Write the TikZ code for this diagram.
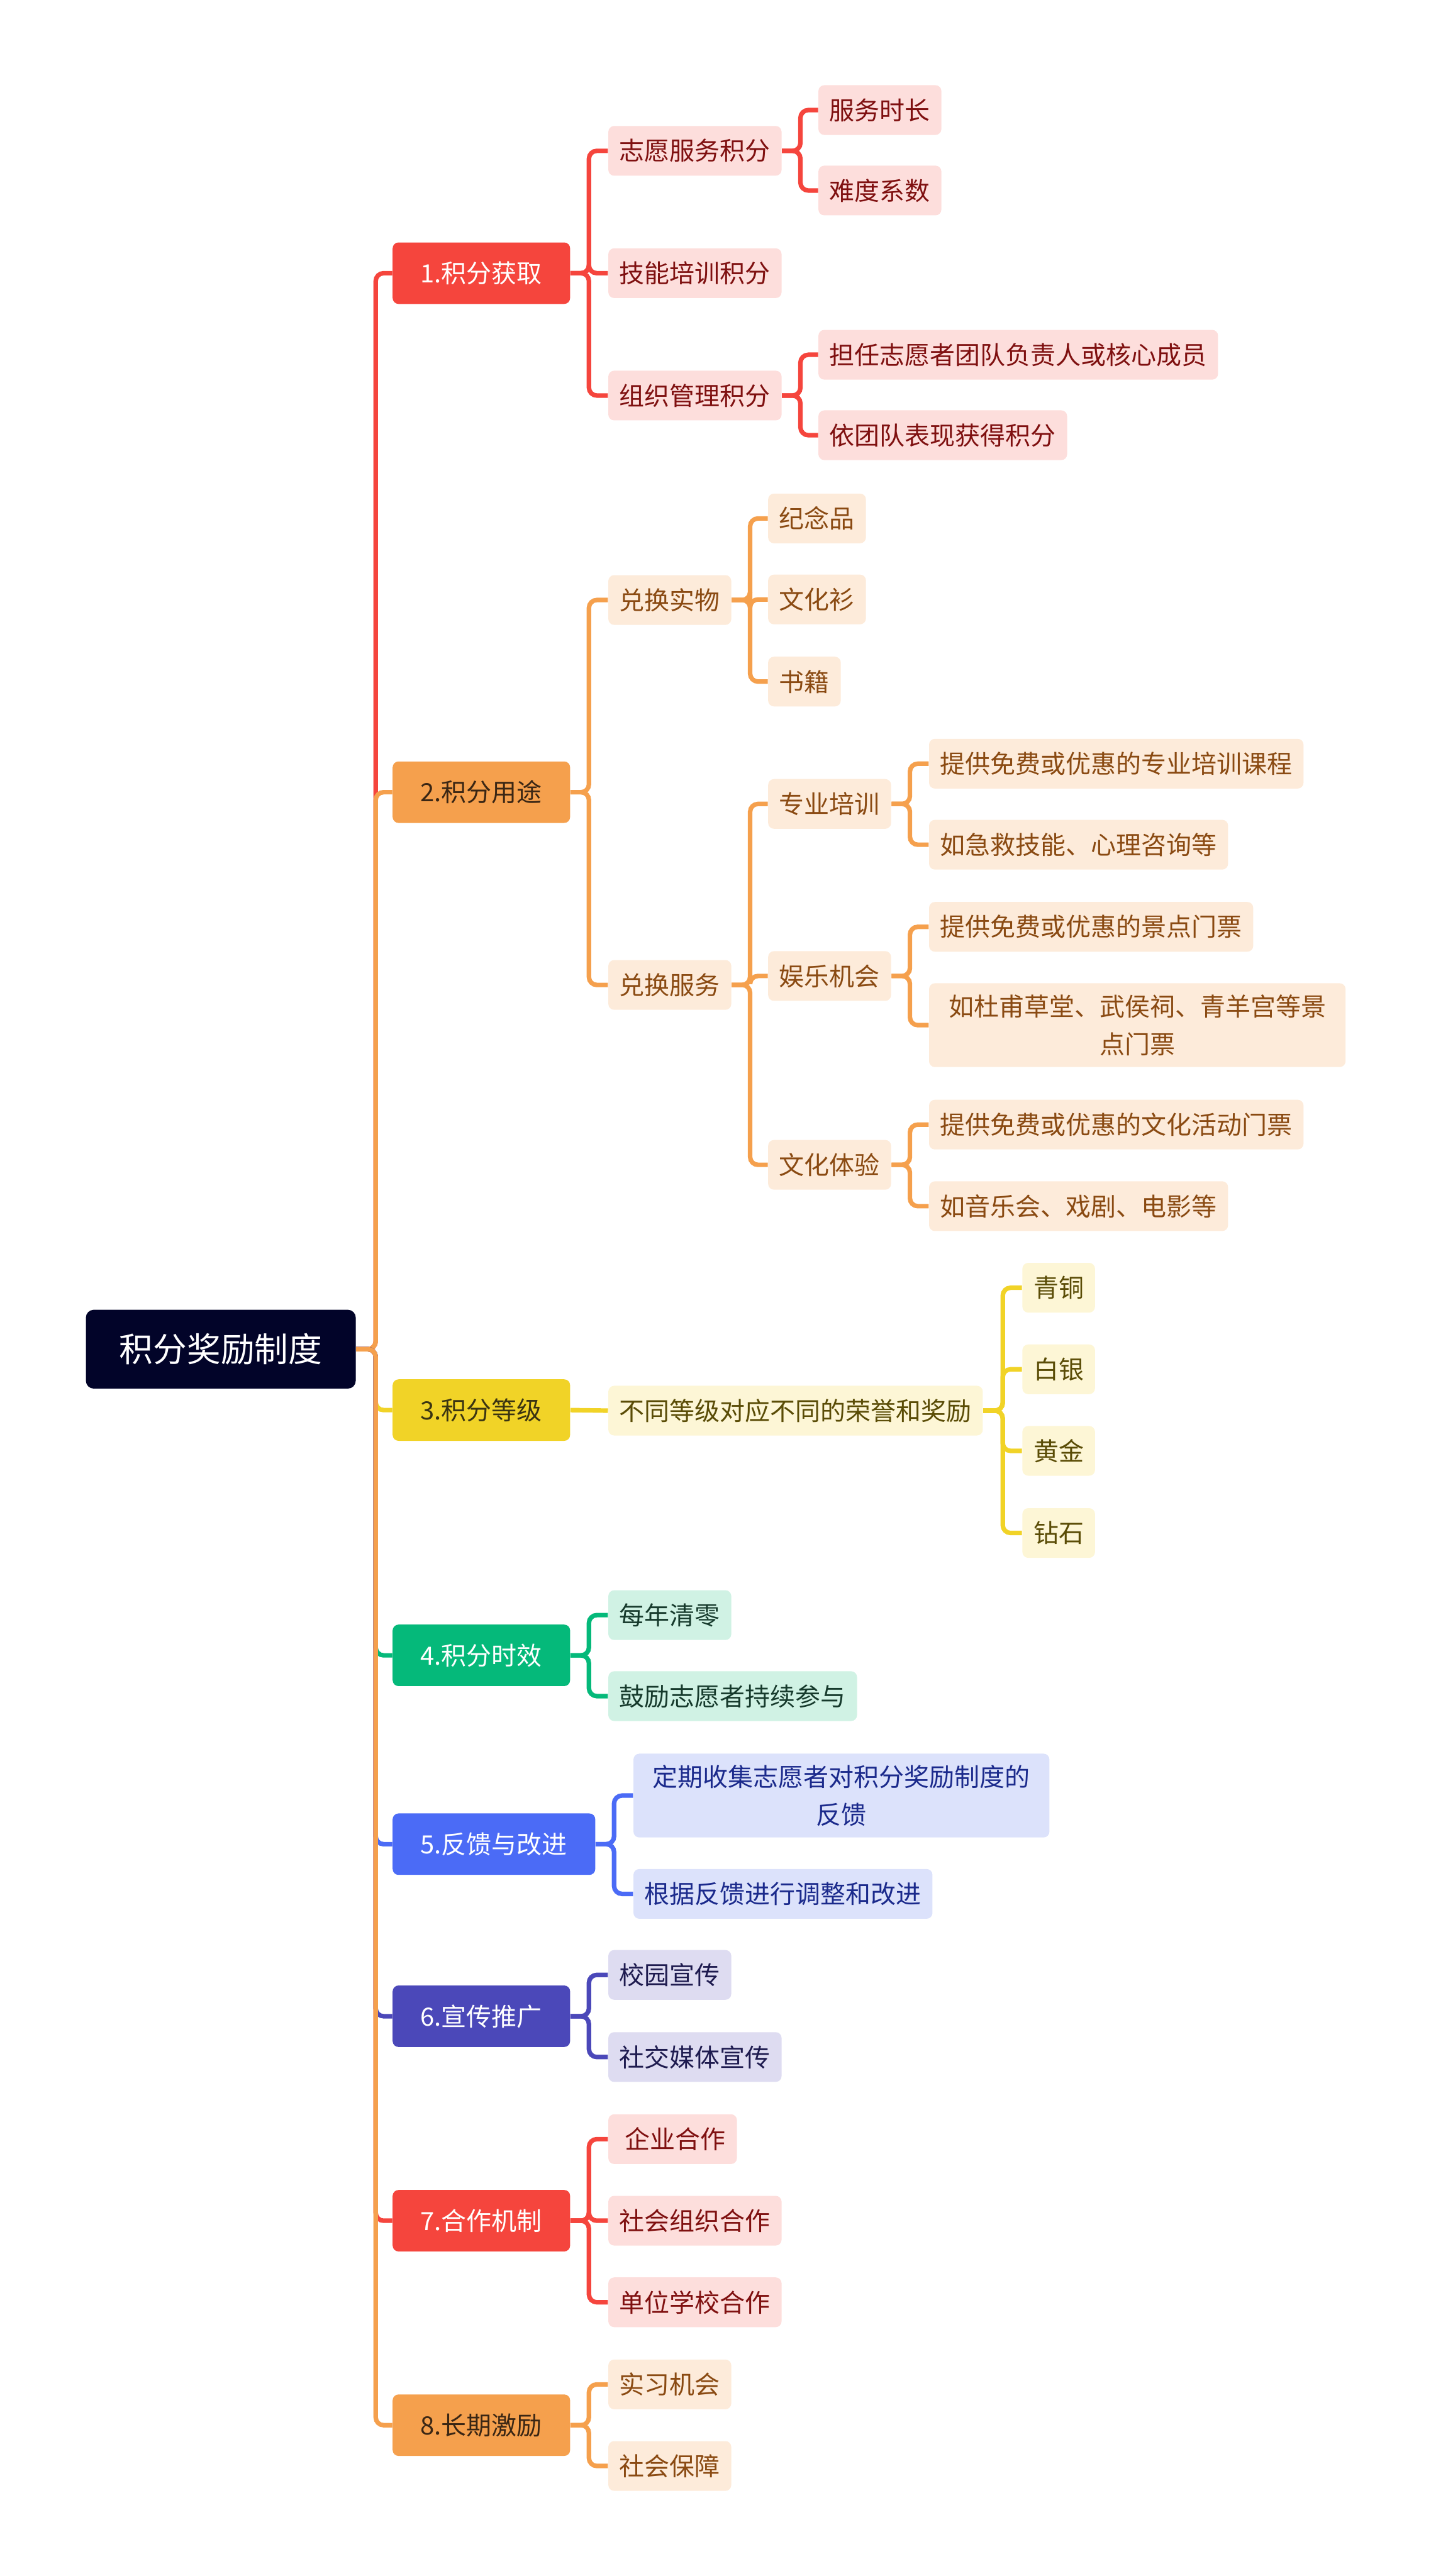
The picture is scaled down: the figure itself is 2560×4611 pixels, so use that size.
\documentclass[tikz,border=0pt]{standalone}
\usepackage{fontspec}
\usepackage{xcolor}
\usepackage{tikz}
\newfontfamily\cjk{Noto Sans CJK SC}
\definecolor{rootNavy}{HTML}{020429}
\definecolor{mmRed}{HTML}{F5453D}
\definecolor{mmRedLight}{HTML}{FDDEDC}
\definecolor{mmRedText}{HTML}{7F1010}
\definecolor{mmOrange}{HTML}{F5A04D}
\definecolor{mmOrangeLight}{HTML}{FDEBDA}
\definecolor{mmOrangeText}{HTML}{8A4A12}
\definecolor{mmOrangeDark}{HTML}{3A2614}
\definecolor{mmYellow}{HTML}{F1D327}
\definecolor{mmYellowLight}{HTML}{FDF6D6}
\definecolor{mmYellowText}{HTML}{5A4C06}
\definecolor{mmYellowDark}{HTML}{3A3412}
\definecolor{mmGreen}{HTML}{05B97A}
\definecolor{mmGreenLight}{HTML}{D0F2E4}
\definecolor{mmGreenText}{HTML}{163A2C}
\definecolor{mmBlue}{HTML}{4B6BF6}
\definecolor{mmBlueLight}{HTML}{DCE2FB}
\definecolor{mmBlueText}{HTML}{1B2A8C}
\definecolor{mmIndigo}{HTML}{4B48B9}
\definecolor{mmIndigoLight}{HTML}{DEDCF1}
\definecolor{mmIndigoText}{HTML}{1E1B4F}
\tikzset{
  reward-root/.style={fill=rootNavy, text=white, rounded corners=4pt, anchor=west,
    font=\cjk\fontsize{17.2pt}{20pt}\selectfont, inner xsep=0.6cm, minimum height=1.41cm},
  reward-topic/.style={rounded corners=3pt, anchor=west,
    font=\cjk\fontsize{12.8pt}{19pt}\selectfont, inner xsep=0.5cm, minimum height=1.1cm},
  reward-item/.style={rounded corners=3pt, anchor=west, align=center,
    font=\cjk\fontsize{12.8pt}{19pt}\selectfont, inner xsep=0.2cm, minimum height=0.89cm},
  reward-link/.style={line width=2.3pt, rounded corners=4pt},
  red-topic/.style={reward-topic, fill=mmRed, text=white},
  red-item/.style={reward-item, fill=mmRedLight, text=mmRedText},
  red-link/.style={reward-link, draw=mmRed},
  orange-topic/.style={reward-topic, fill=mmOrange, text=mmOrangeDark},
  orange-item/.style={reward-item, fill=mmOrangeLight, text=mmOrangeText},
  orange-link/.style={reward-link, draw=mmOrange},
  yellow-topic/.style={reward-topic, fill=mmYellow, text=mmYellowDark},
  yellow-item/.style={reward-item, fill=mmYellowLight, text=mmYellowText},
  yellow-link/.style={reward-link, draw=mmYellow},
  green-topic/.style={reward-topic, fill=mmGreen, text=white},
  green-item/.style={reward-item, fill=mmGreenLight, text=mmGreenText},
  green-link/.style={reward-link, draw=mmGreen},
  blue-topic/.style={reward-topic, fill=mmBlue, text=white},
  blue-item/.style={reward-item, fill=mmBlueLight, text=mmBlueText},
  blue-link/.style={reward-link, draw=mmBlue},
  indigo-topic/.style={reward-topic, fill=mmIndigo, text=white},
  indigo-item/.style={reward-item, fill=mmIndigoLight, text=mmIndigoText},
  indigo-link/.style={reward-link, draw=mmIndigo}
}

\begin{document}
\begin{tikzpicture}[x=0.01cm, y=-0.01cm]
  \useasboundingbox (0,0) rectangle (2560,4611);

  % Root and main topics
  \node[reward-root] (root) at (153,2415) {积分奖励制度};
  \node[red-topic] (t1) at (702,489) {1.积分获取};
  \node[orange-topic] (t2) at (702,1418) {2.积分用途};
  \node[yellow-topic] (t3) at (702,2524) {3.积分等级};
  \node[green-topic] (t4) at (702,2963) {4.积分时效};
  \node[blue-topic] (t5) at (702,3301) {5.反馈与改进};
  \node[indigo-topic] (t6) at (702,3609) {6.宣传推广};
  \node[red-topic] (t7) at (702,3975) {7.合作机制};
  \node[orange-topic] (t8) at (702,4341) {8.长期激励};

  % 1
  \node[red-item] (t1a) at (1088,270) {志愿服务积分};
  \node[red-item] (t1b) at (1088,489) {技能培训积分};
  \node[red-item] (t1c) at (1088,708) {组织管理积分};
  \node[red-item] (t1a1) at (1464,197) {服务时长};
  \node[red-item] (t1a2) at (1464,341) {难度系数};
  \node[red-item] (t1c1) at (1464,635) {担任志愿者团队负责人或核心成员};
  \node[red-item] (t1c2) at (1464,779) {依团队表现获得积分};

  % 2
  \node[orange-item] (t2a) at (1088,1074) {兑换实物};
  \node[orange-item] (t2b) at (1088,1763) {兑换服务};
  \node[orange-item] (t2a1) at (1374,928) {纪念品};
  \node[orange-item] (t2a2) at (1374,1073) {文化衫};
  \node[orange-item] (t2a3) at (1374,1220) {书籍};
  \node[orange-item] (t2b1) at (1374,1439) {专业培训};
  \node[orange-item] (t2b2) at (1374,1747) {娱乐机会};
  \node[orange-item] (t2b3) at (1374,2085) {文化体验};
  \node[orange-item] (t2b1a) at (1662,1367) {提供免费或优惠的专业培训课程};
  \node[orange-item] (t2b1b) at (1662,1512) {如急救技能、心理咨询等};
  \node[orange-item] (t2b2a) at (1662,1659) {提供免费或优惠的景点门票};
  \node[orange-item, text width=7.05cm, minimum height=1.5cm] (t2b2b) at (1662,1835)
    {如杜甫草堂、武侯祠、青羊宫等景\\点门票};
  \node[orange-item] (t2b3a) at (1662,2013) {提供免费或优惠的文化活动门票};
  \node[orange-item] (t2b3b) at (1662,2159) {如音乐会、戏剧、电影等};

  % 3
  \node[yellow-item] (t3a) at (1088,2525) {不同等级对应不同的荣誉和奖励};
  \node[yellow-item] (t3a1) at (1829,2305) {青铜};
  \node[yellow-item] (t3a2) at (1829,2451) {白银};
  \node[yellow-item] (t3a3) at (1829,2597) {黄金};
  \node[yellow-item] (t3a4) at (1829,2744) {钻石};

  % 4 -- 8
  \node[green-item] (t4a) at (1088,2891) {每年清零};
  \node[green-item] (t4b) at (1088,3036) {鼓励志愿者持续参与};
  \node[blue-item, text width=7.04cm, minimum height=1.5cm] (t5a) at (1133,3214)
    {定期收集志愿者对积分奖励制度的\\反馈};
  \node[blue-item] (t5b) at (1133,3390) {根据反馈进行调整和改进};
  \node[indigo-item] (t6a) at (1088,3535) {校园宣传};
  \node[indigo-item] (t6b) at (1088,3682) {社交媒体宣传};
  \node[red-item] (t7a) at (1088,3829) {\ 企业合作};
  \node[red-item] (t7b) at (1088,3975) {社会组织合作};
  \node[red-item] (t7c) at (1088,4121) {单位学校合作};
  \node[orange-item] (t8a) at (1088,4268) {实习机会};
  \node[orange-item] (t8b) at (1088,4414) {社会保障};

  % Links from the root
  \draw[red-link] (root.east) -- ++(35,0) |- (t1.west);
  \draw[orange-link] (root.east) -- ++(35,0) |- (t2.west);
  \draw[yellow-link] (root.east) -- ++(35,0) |- (t3.west);
  \draw[green-link] (root.east) -- ++(35,0) |- (t4.west);
  \draw[blue-link] (root.east) -- ++(35,0) |- (t5.west);
  \draw[indigo-link] (root.east) -- ++(35,0) |- (t6.west);
  \draw[red-link] (root.east) -- ++(35,0) |- (t7.west);
  \draw[orange-link] (root.east) -- ++(35,0) |- (t8.west);

  % Links inside the topics
  \draw[red-link] (t1.east) -- ++(33,0) |- (t1a.west);
  \draw[red-link] (t1.east) -- ++(33,0) |- (t1b.west);
  \draw[red-link] (t1.east) -- ++(33,0) |- (t1c.west);
  \draw[red-link] (t1a.east) -- ++(33,0) |- (t1a1.west);
  \draw[red-link] (t1a.east) -- ++(33,0) |- (t1a2.west);
  \draw[red-link] (t1c.east) -- ++(33,0) |- (t1c1.west);
  \draw[red-link] (t1c.east) -- ++(33,0) |- (t1c2.west);

  \draw[orange-link] (t2.east) -- ++(33,0) |- (t2a.west);
  \draw[orange-link] (t2.east) -- ++(33,0) |- (t2b.west);
  \draw[orange-link] (t2a.east) -- ++(33,0) |- (t2a1.west);
  \draw[orange-link] (t2a.east) -- ++(33,0) |- (t2a2.west);
  \draw[orange-link] (t2a.east) -- ++(33,0) |- (t2a3.west);
  \draw[orange-link] (t2b.east) -- ++(33,0) |- (t2b1.west);
  \draw[orange-link] (t2b.east) -- ++(33,0) |- (t2b2.west);
  \draw[orange-link] (t2b.east) -- ++(33,0) |- (t2b3.west);
  \draw[orange-link] (t2b1.east) -- ++(33,0) |- (t2b1a.west);
  \draw[orange-link] (t2b1.east) -- ++(33,0) |- (t2b1b.west);
  \draw[orange-link] (t2b2.east) -- ++(33,0) |- (t2b2a.west);
  \draw[orange-link] (t2b2.east) -- ++(33,0) |- (t2b2b.west);
  \draw[orange-link] (t2b3.east) -- ++(33,0) |- (t2b3a.west);
  \draw[orange-link] (t2b3.east) -- ++(33,0) |- (t2b3b.west);

  \draw[yellow-link] (t3.east) -- (t3a.west);
  \draw[yellow-link] (t3a.east) -- ++(35,0) |- (t3a1.west);
  \draw[yellow-link] (t3a.east) -- ++(35,0) |- (t3a2.west);
  \draw[yellow-link] (t3a.east) -- ++(35,0) |- (t3a3.west);
  \draw[yellow-link] (t3a.east) -- ++(35,0) |- (t3a4.west);

  \draw[green-link] (t4.east) -- ++(33,0) |- (t4a.west);
  \draw[green-link] (t4.east) -- ++(33,0) |- (t4b.west);
  \draw[blue-link] (t5.east) -- ++(33,0) |- (t5a.west);
  \draw[blue-link] (t5.east) -- ++(33,0) |- (t5b.west);
  \draw[indigo-link] (t6.east) -- ++(33,0) |- (t6a.west);
  \draw[indigo-link] (t6.east) -- ++(33,0) |- (t6b.west);
  \draw[red-link] (t7.east) -- ++(33,0) |- (t7a.west);
  \draw[red-link] (t7.east) -- ++(33,0) |- (t7b.west);
  \draw[red-link] (t7.east) -- ++(33,0) |- (t7c.west);
  \draw[orange-link] (t8.east) -- ++(33,0) |- (t8a.west);
  \draw[orange-link] (t8.east) -- ++(33,0) |- (t8b.west);
\end{tikzpicture}
\end{document}
